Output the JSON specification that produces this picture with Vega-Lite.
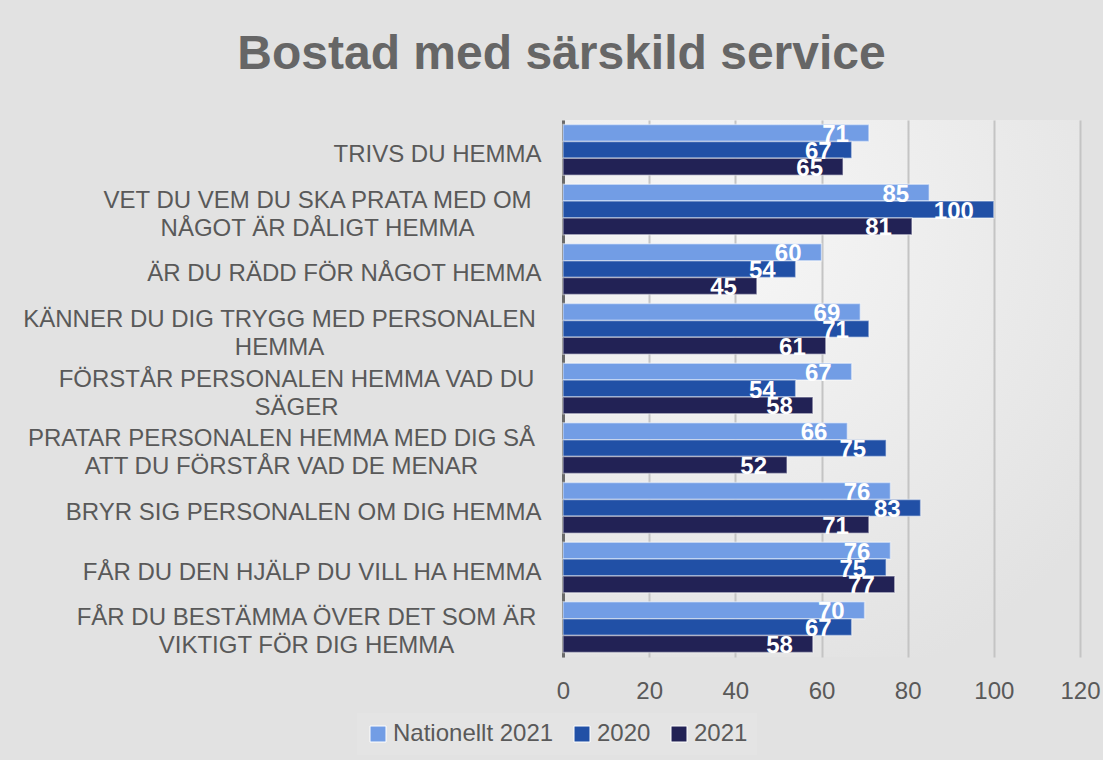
{
  "$schema": "https://vega.github.io/schema/vega-lite/v6.json",
  "width": 517,
  "height": 537,
  "autosize": {"type": "none"},
  "padding": {"left": 563, "top": 120, "right": 23, "bottom": 103},
  "background": "#e2e2e2",
  "config": {
    "font": "Liberation Sans",
    "view": {
      "stroke": null,
      "fill": {"gradient": "radial", "x1": 0.3, "y1": 0.2, "x2": 0.3, "y2": 0.2, "r1": 0, "r2": 0.9, "stops": [{"offset": 0, "color": "#f7f7f7"}, {"offset": 1, "color": "#e2e2e2"}]}
    }
  },
  "title": {
    "text": "Bostad med särskild service",
    "fontSize": 48,
    "fontWeight": "bold",
    "color": "#666666",
    "anchor": "middle",
    "dx": -260,
    "offset": 41
  },
  "data": {
    "values": [
      {"fråga": "TRIVS DU HEMMA", "serie": "Nationellt 2021", "värde": 71},
      {"fråga": "TRIVS DU HEMMA", "serie": "2020", "värde": 67},
      {"fråga": "TRIVS DU HEMMA", "serie": "2021", "värde": 65},
      {"fråga": "VET DU VEM DU SKA PRATA MED OM|NÅGOT ÄR DÅLIGT HEMMA", "serie": "Nationellt 2021", "värde": 85},
      {"fråga": "VET DU VEM DU SKA PRATA MED OM|NÅGOT ÄR DÅLIGT HEMMA", "serie": "2020", "värde": 100},
      {"fråga": "VET DU VEM DU SKA PRATA MED OM|NÅGOT ÄR DÅLIGT HEMMA", "serie": "2021", "värde": 81},
      {"fråga": "ÄR DU RÄDD FÖR NÅGOT HEMMA", "serie": "Nationellt 2021", "värde": 60},
      {"fråga": "ÄR DU RÄDD FÖR NÅGOT HEMMA", "serie": "2020", "värde": 54},
      {"fråga": "ÄR DU RÄDD FÖR NÅGOT HEMMA", "serie": "2021", "värde": 45},
      {"fråga": "KÄNNER DU DIG TRYGG MED PERSONALEN|HEMMA", "serie": "Nationellt 2021", "värde": 69},
      {"fråga": "KÄNNER DU DIG TRYGG MED PERSONALEN|HEMMA", "serie": "2020", "värde": 71},
      {"fråga": "KÄNNER DU DIG TRYGG MED PERSONALEN|HEMMA", "serie": "2021", "värde": 61},
      {"fråga": "FÖRSTÅR PERSONALEN HEMMA VAD DU|SÄGER", "serie": "Nationellt 2021", "värde": 67},
      {"fråga": "FÖRSTÅR PERSONALEN HEMMA VAD DU|SÄGER", "serie": "2020", "värde": 54},
      {"fråga": "FÖRSTÅR PERSONALEN HEMMA VAD DU|SÄGER", "serie": "2021", "värde": 58},
      {"fråga": "PRATAR PERSONALEN HEMMA MED DIG SÅ|ATT DU FÖRSTÅR VAD DE MENAR", "serie": "Nationellt 2021", "värde": 66},
      {"fråga": "PRATAR PERSONALEN HEMMA MED DIG SÅ|ATT DU FÖRSTÅR VAD DE MENAR", "serie": "2020", "värde": 75},
      {"fråga": "PRATAR PERSONALEN HEMMA MED DIG SÅ|ATT DU FÖRSTÅR VAD DE MENAR", "serie": "2021", "värde": 52},
      {"fråga": "BRYR SIG PERSONALEN OM DIG HEMMA", "serie": "Nationellt 2021", "värde": 76},
      {"fråga": "BRYR SIG PERSONALEN OM DIG HEMMA", "serie": "2020", "värde": 83},
      {"fråga": "BRYR SIG PERSONALEN OM DIG HEMMA", "serie": "2021", "värde": 71},
      {"fråga": "FÅR DU DEN HJÄLP DU VILL HA HEMMA", "serie": "Nationellt 2021", "värde": 76},
      {"fråga": "FÅR DU DEN HJÄLP DU VILL HA HEMMA", "serie": "2020", "värde": 75},
      {"fråga": "FÅR DU DEN HJÄLP DU VILL HA HEMMA", "serie": "2021", "värde": 77},
      {"fråga": "FÅR DU BESTÄMMA ÖVER DET SOM ÄR|VIKTIGT FÖR DIG HEMMA", "serie": "Nationellt 2021", "värde": 70},
      {"fråga": "FÅR DU BESTÄMMA ÖVER DET SOM ÄR|VIKTIGT FÖR DIG HEMMA", "serie": "2020", "värde": 67},
      {"fråga": "FÅR DU BESTÄMMA ÖVER DET SOM ÄR|VIKTIGT FÖR DIG HEMMA", "serie": "2021", "värde": 58}
    ]
  },
  "encoding": {
    "y": {
      "field": "fråga",
      "type": "nominal",
      "sort": null,
      "scale": {"paddingInner": 0.15, "paddingOuter": 0.075},
      "axis": {
        "title": null,
        "ticks": false,
        "grid": false,
        "domainColor": "#6b6b6b",
        "domainWidth": 3,
        "labelFontSize": 24,
        "labelColor": "#595959",
        "labelLimit": 0,
        "labelLineHeight": 28,
        "labelExpr": "split(datum.label, '|')",
        "labelAlign": {"condition": {"test": "indexof(datum.value, '|') >= 0", "value": "center"}, "value": "right"},
        "labelOffset": {"condition": {"test": "indexof(datum.value, '|') >= 0", "value": -9}, "value": 5},
        "labelPadding": {
          "condition": [
            {"test": "indexof(datum.value, 'VET DU') == 0", "value": 246},
            {"test": "indexof(datum.value, 'KÄNNER') == 0", "value": 284},
            {"test": "indexof(datum.value, 'FÖRSTÅR') == 0", "value": 267},
            {"test": "indexof(datum.value, 'PRATAR') == 0", "value": 282},
            {"test": "indexof(datum.value, 'FÅR DU BESTÄMMA') == 0", "value": 257}
          ],
          "value": 22
        }
      }
    },
    "yOffset": {
      "field": "serie",
      "type": "nominal",
      "sort": ["Nationellt 2021", "2020", "2021"],
      "scale": {"paddingInner": 0, "paddingOuter": 0}
    },
    "x": {
      "field": "värde",
      "type": "quantitative",
      "scale": {"domain": [0, 120], "nice": false},
      "axis": {
        "title": null,
        "values": [0, 20, 40, 60, 80, 100, 120],
        "ticks": false,
        "domain": false,
        "grid": true,
        "gridColor": "#c4c4c4",
        "gridWidth": 2,
        "labelFlush": false,
        "labelFontSize": 24,
        "labelColor": "#595959",
        "labelPadding": 22
      }
    }
  },
  "layer": [
    {
      "mark": {"type": "bar", "stroke": "#ffffff", "strokeOpacity": 0.45, "strokeWidth": 1.5},
      "encoding": {
        "color": {
          "field": "serie",
          "type": "nominal",
          "scale": {"domain": ["Nationellt 2021", "2020", "2021"], "range": ["#729de5", "#2150a6", "#222255"]},
          "legend": {
            "title": null,
            "orient": "none",
            "direction": "horizontal",
            "legendX": -206,
            "legendY": 593,
            "fillColor": "#e4e4e4",
            "padding": 9,
            "symbolType": "square",
            "symbolSize": 256,
            "symbolStrokeColor": "#ffffff",
            "symbolStrokeWidth": 1,
            "labelFontSize": 24,
            "labelColor": "#595959",
            "labelLimit": 0,
            "labelOffset": 3,
            "columnPadding": 16
          }
        }
      }
    },
    {
      "mark": {"type": "text", "align": "right", "baseline": "middle", "dx": -20, "dy": 2, "fontSize": 24, "fontWeight": "bold", "color": "#ffffff"},
      "encoding": {
        "text": {"field": "värde", "type": "quantitative"}
      }
    }
  ]
}
